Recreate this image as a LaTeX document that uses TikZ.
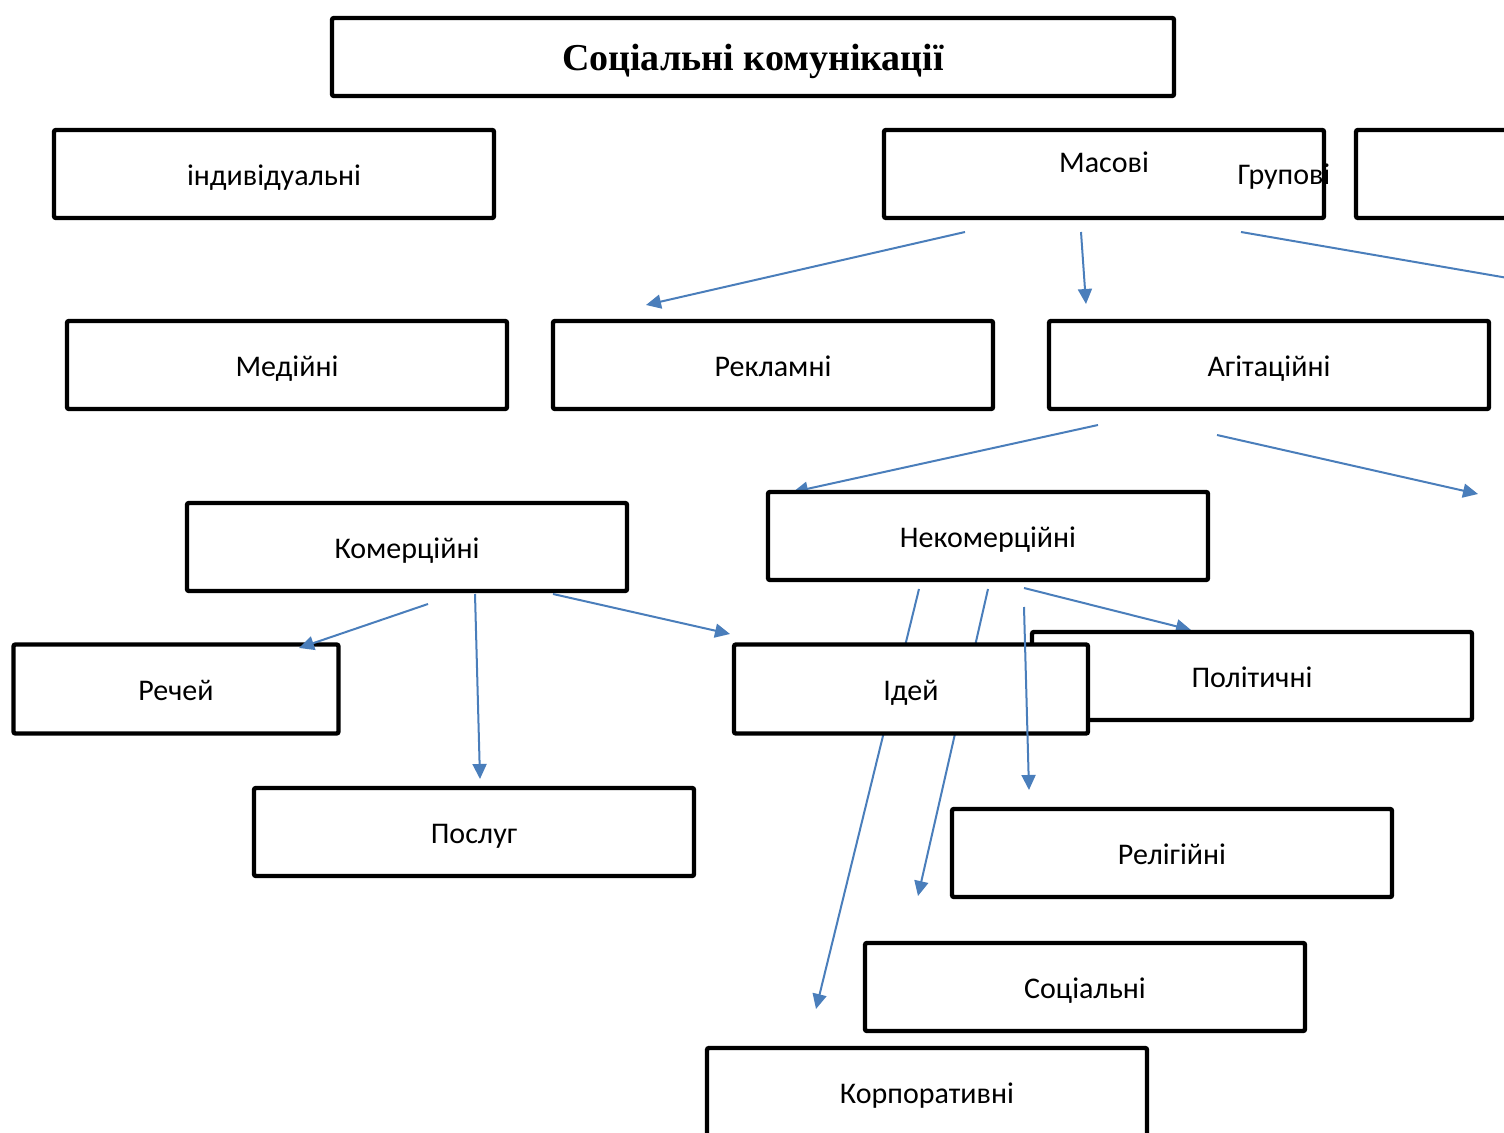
\documentclass[tikz,border=0pt]{standalone}
\usepackage{fontspec}
\setmainfont{Carlito}
\newfontfamily\titlefont{Liberation Serif}
\usepackage{xcolor}
\usepackage{tikz}
\usetikzlibrary{arrows.meta, positioning}
\definecolor{arrowblue}{HTML}{4A7EBB}
\tikzset{
    box/.style={rectangle, draw=black, line width=2.2pt, fill=white, rounded corners=1pt, minimum width=220pt, minimum height=44pt, inner sep=0pt, align=center, text height=13.5pt, text depth=2pt, font=\fontsize{15}{18}\selectfont},
    titlebox/.style={box, minimum width=421pt, minimum height=39pt, text height=17pt, text depth=3.8pt, font=\titlefont\bfseries\fontsize{19}{23}\selectfont},
    plain/.style={inner sep=0pt, font=\fontsize{15}{18}\selectfont},
    arrow/.style={-{Triangle[length=7.5pt, width=7pt]}, line width=1pt, draw=arrowblue}
}

\begin{document}
\begin{tikzpicture}[x=0.5pt, y=-0.5pt]
        \useasboundingbox (0,0) rectangle (1504,1133);
        \clip (0,0) rectangle (1504,1133);

        % Title
        \node[titlebox] (Title) at (753,57) {Соціальні комунікації};

        % Level 1
        \node[box] (Indiv) at (274,174) {індивідуальні};
        \node[box] (Masovi) at (1104,174) {};
        \node[plain] (MasoviText) at (1104,162) {Масові};
        \node[box] (Extra) at (1576,174) {};
        \node[plain] (Grupovi) at (1284,177) {Групові};

        % Level 2
        \node[box] (Mediini) at (287,365) {Медійні};
        \node[box] (Reklamni) at (773,365) {Рекламні};
        \node[box] (Agit) at (1269,365) {Агітаційні};

        \coordinate (m1) at (965,232);  \coordinate (m1e) at (646,305);
        \coordinate (m2) at (1081,232); \coordinate (m2e) at (1086,304);
        \coordinate (m3) at (1241,232); \coordinate (m3e) at (1560,287);
        \draw[arrow] (m1) -- (m1e);
        \draw[arrow] (m2) -- (m2e);
        \draw[arrow] (m3) -- (m3e);

        \coordinate (g1) at (1098,425); \coordinate (g1e) at (793,492);
        \coordinate (g2) at (1217,435); \coordinate (g2e) at (1478,494);
        \draw[arrow] (g1) -- (g1e);
        \draw[arrow] (g2) -- (g2e);

        % Level 3
        \node[box] (Komer) at (407,547) {Комерційні};
        \node[box] (Nekomer) at (988,536) {Некомерційні};
        \node[box, minimum width=162.5pt, minimum height=44.5pt] (Rechei) at (176,689) {Речей};

        \coordinate (k1) at (428,604); \coordinate (k1e) at (299,648);
        \coordinate (k2) at (475,594); \coordinate (k2e) at (480,779);
        \coordinate (k3) at (553,594); \coordinate (k3e) at (730,634);
        \draw[arrow] (k1) -- (k1e);
        \draw[arrow] (k2) -- (k2e);
        \draw[arrow] (k3) -- (k3e);

        \coordinate (n1) at (1024,588); \coordinate (n1e) at (1191,630);
        \coordinate (n2) at (988,589);  \coordinate (n2e) at (918,896);
        \coordinate (n3) at (919,589);  \coordinate (n3e) at (816,1009);
        \draw[arrow] (n1) -- (n1e);
        \draw[arrow] (n2) -- (n2e);
        \draw[arrow] (n3) -- (n3e);

        \node[box] (Polit) at (1252,676) {Політичні};
        \node[box, minimum width=177pt, minimum height=44.5pt] (Idei) at (911,689) {Ідей};

        \coordinate (n4) at (1024,607); \coordinate (n4e) at (1029,790);
        \draw[arrow] (n4) -- (n4e);

        % Level 4
        \node[box] (Posluh) at (474,832) {Послуг};
        \node[box] (Relig) at (1172,853) {Релігійні};
        \node[box] (Sotsial) at (1085,987) {Соціальні};
        \node[box] (Korpor) at (927,1092) {Корпоративні};
    \end{tikzpicture}
\end{document}
